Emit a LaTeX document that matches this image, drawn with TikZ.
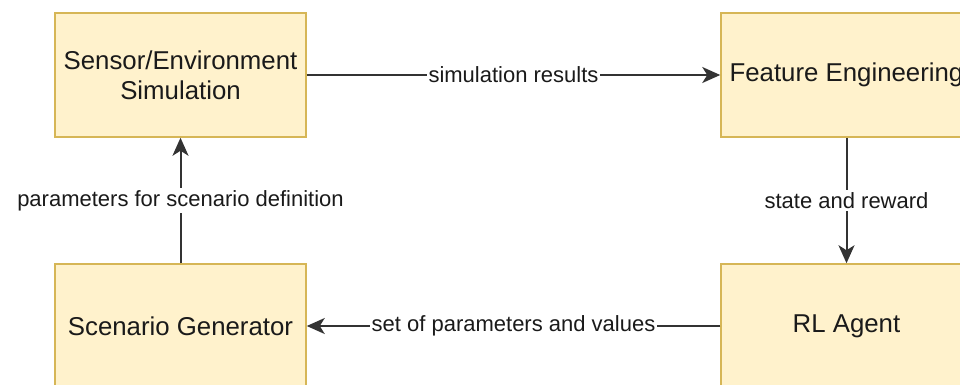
\documentclass[tikz,border=0pt]{standalone}
\usepackage{fontspec}
\setmainfont{Liberation Sans}
\usetikzlibrary{arrows.meta}
\definecolor{boxfill}{HTML}{FFF2CC}
\definecolor{boxline}{HTML}{D6B656}
\definecolor{linecol}{HTML}{333333}
\definecolor{txtcol}{HTML}{1A1A1A}
\tikzset{
  box/.style={rectangle, draw=boxline, fill=boxfill, line width=1.5pt,
    minimum width=251pt, minimum height=124pt, align=center, text=txtcol,
    font=\fontsize{25.8}{30}\selectfont, inner sep=0pt},
  arr/.style={draw=linecol, line width=2pt,
    -{Stealth[length=18pt, width=16pt, inset=5pt]}},
  lbl/.style={fill=white, text=txtcol, inner sep=2pt,
    font=\fontsize{22}{26}\selectfont}
}
\begin{document}
\begin{tikzpicture}[x=1pt, y=-1pt]
\useasboundingbox (0,0) rectangle (960,385);
\clip (0,0) rectangle (960,385);
\node[box] (sim) at (180.5,75) {Sensor/Environment\\Simulation};
\node[box] (feat) at (846.5,75) {Feature Engineering};
\node[box] (scen) at (180.5,326) {Scenario Generator};
\node[box] (rl) at (846.5,326) {RL Agent};
\draw[arr] (sim.east) -- node[lbl] {simulation results} (feat.west);
\draw[arr] (feat.south) -- node[lbl] {state and reward} (rl.north);
\draw[arr] (rl.west) -- node[lbl] {set of parameters and values} (scen.east);
\draw[arr] (scen.north) -- node[lbl] {parameters for scenario definition} (sim.south);
\end{tikzpicture}
\end{document}
